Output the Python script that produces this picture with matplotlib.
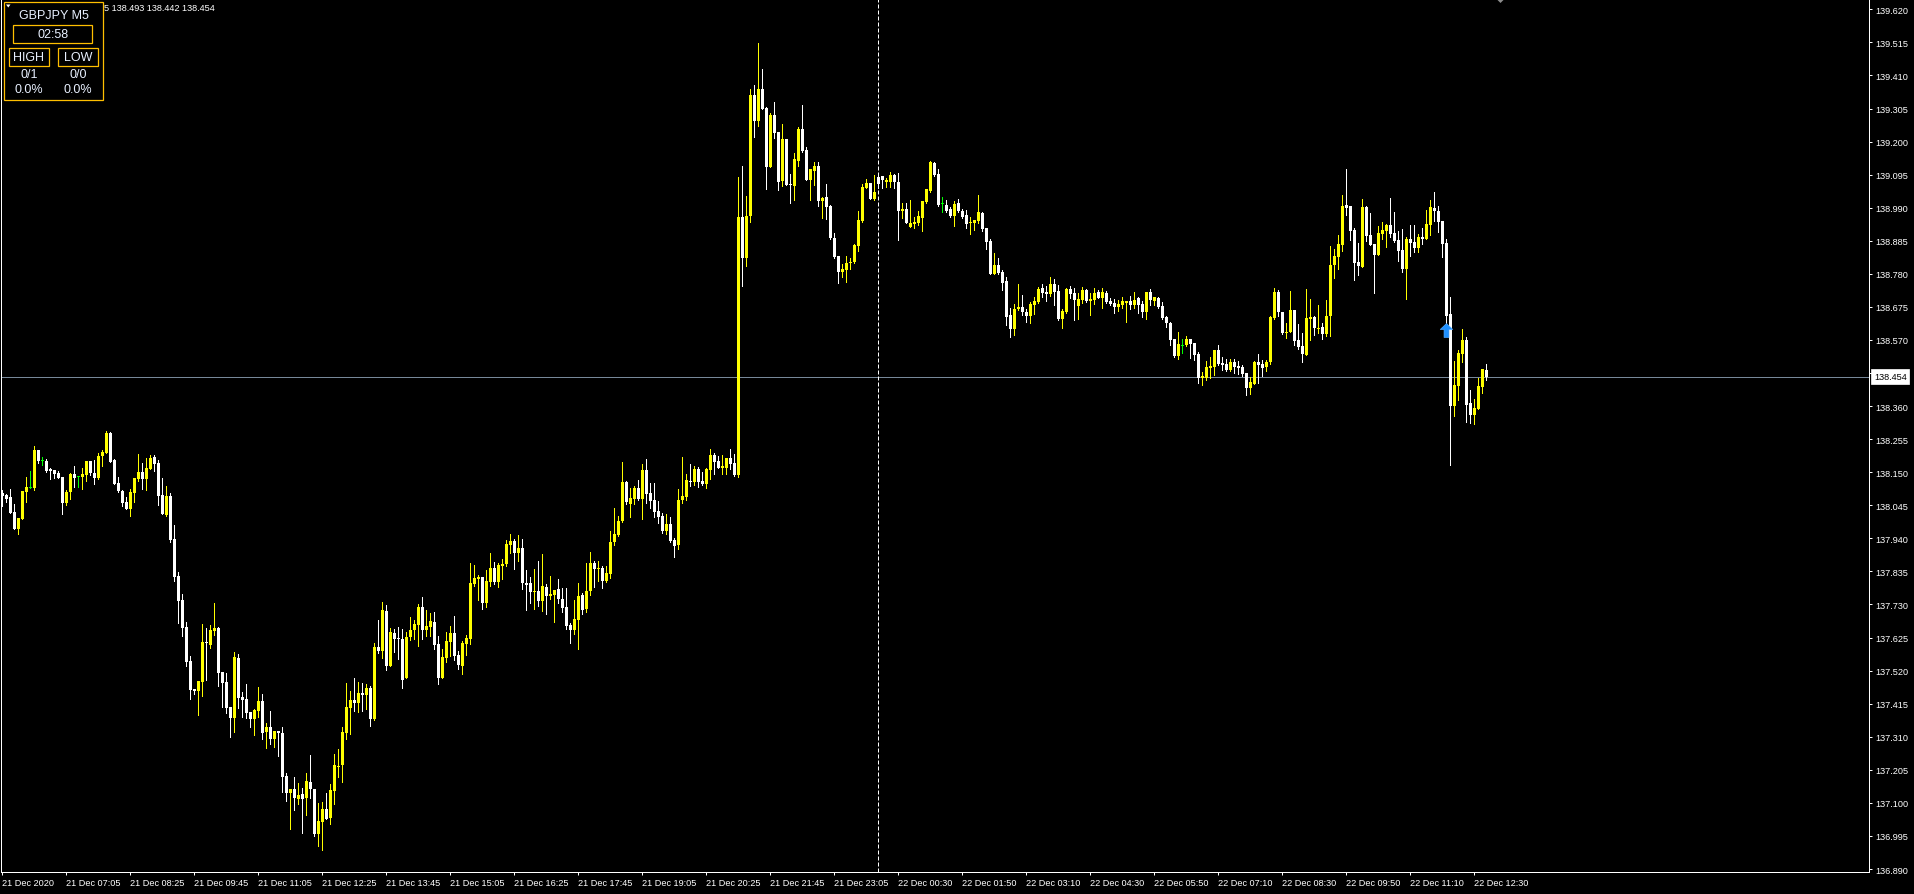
import matplotlib
matplotlib.use("Agg")
import matplotlib.pyplot as plt
from matplotlib.patches import Rectangle, Polygon
from matplotlib.path import Path
import numpy as np

plt.rcParams['font.family'] = ['Liberation Sans', 'DejaVu Sans']

# GBPJPY M5 bars, 21 Dec 2020 -> 22 Dec 2020 12:45
opens = [
    138.084, 138.078, 138.071, 138.024, 137.970, 138.001, 138.088, 138.101, 138.100, 138.221,
    138.187, 138.186, 138.160, 138.157, 138.148, 138.135, 138.052, 138.088, 138.144, 138.135,
    138.135, 138.141, 138.186, 138.148, 138.132, 138.202, 138.211, 138.275, 138.189, 138.116,
    138.090, 138.055, 138.033, 138.084, 138.128, 138.151, 138.128, 138.160, 138.198, 138.179,
    138.078, 138.015, 138.074, 137.938, 137.820, 137.744, 137.658, 137.551, 137.462, 137.455,
    137.484, 137.608, 137.601, 137.646, 137.655, 137.516, 137.484, 137.404, 137.370, 137.560,
    137.436, 137.430, 137.389, 137.366, 137.392, 137.424, 137.325, 137.341, 137.303, 137.328,
    137.322, 137.185, 137.131, 137.144, 137.112, 137.128, 137.115, 137.166, 137.144, 137.001,
    137.039, 137.081, 137.052, 137.138, 137.217, 137.220, 137.322, 137.401, 137.427, 137.417,
    137.449, 137.443, 137.465, 137.366, 137.595, 137.582, 137.709, 137.535, 137.639, 137.624,
    137.620, 137.497, 137.627, 137.649, 137.665, 137.722, 137.649, 137.659, 137.674, 137.605,
    137.497, 137.560, 137.611, 137.639, 137.570, 137.535, 137.605, 137.620, 137.795, 137.811,
    137.817, 137.735, 137.801, 137.846, 137.801, 137.852, 137.859, 137.919, 137.932, 137.894,
    137.909, 137.798, 137.798, 137.770, 137.773, 137.741, 137.786, 137.757, 137.760, 137.779,
    137.747, 137.722, 137.665, 137.649, 137.681, 137.760, 137.716, 137.773, 137.862, 137.843,
    137.846, 137.805, 137.827, 137.928, 137.951, 137.995, 138.119, 138.049, 138.065, 138.100,
    138.065, 138.157, 138.084, 138.062, 138.027, 138.011, 137.963, 137.986, 137.935, 137.919,
    138.062, 138.071, 138.122, 138.119, 138.160, 138.122, 138.113, 138.157, 138.205, 138.186,
    138.163, 138.163, 138.195, 138.179, 138.141, 138.961, 138.830, 138.964, 139.348, 139.265,
    139.367, 139.307, 139.119, 139.284, 139.230, 139.075, 139.208, 139.065, 139.059, 139.138,
    139.240, 139.173, 139.078, 139.107, 139.122, 139.011, 139.024, 138.995, 138.894, 138.837,
    138.786, 138.792, 138.814, 138.818, 138.868, 138.948, 139.053, 139.069, 139.018, 139.088,
    139.091, 139.072, 139.072, 139.094, 139.072, 138.980, 138.986, 138.929, 138.938, 138.941,
    138.957, 139.008, 139.043, 139.132, 139.097, 139.002, 138.999, 138.986, 138.964, 139.005,
    138.980, 138.967, 138.941, 138.941, 138.948, 138.973, 138.926, 138.884, 138.780, 138.808,
    138.786, 138.757, 138.649, 138.605, 138.668, 138.675, 138.659, 138.646, 138.681, 138.691,
    138.735, 138.722, 138.716, 138.748, 138.726, 138.637, 138.659, 138.732, 138.719, 138.678,
    138.697, 138.729, 138.694, 138.697, 138.722, 138.703, 138.719, 138.694, 138.687, 138.675,
    138.681, 138.687, 138.694, 138.681, 138.703, 138.684, 138.659, 138.722, 138.694, 138.703,
    138.678, 138.643, 138.624, 138.573, 138.519, 138.554, 138.554, 138.573, 138.560, 138.525,
    138.449, 138.449, 138.481, 138.484, 138.538, 138.497, 138.494, 138.475, 138.500, 138.487,
    138.484, 138.465, 138.417, 138.430, 138.500, 138.494, 138.484, 138.500, 138.640, 138.722,
    138.659, 138.595, 138.595, 138.665, 138.570, 138.551, 138.522, 138.637, 138.643, 138.608,
    138.611, 138.589, 138.646, 138.808, 138.833, 138.872, 138.999, 138.995, 138.919, 138.818,
    138.802, 138.992, 138.903, 138.875, 138.840, 138.906, 138.916, 138.935, 138.910, 138.887,
    138.856, 138.795, 138.891, 138.881, 138.862, 138.897, 138.891, 138.935, 138.989, 138.980,
    138.948, 138.878, 138.652, 138.360, 138.424, 138.525, 138.570, 138.370, 138.332, 138.351,
    138.421, 138.475,
]
highs = [
    138.094, 138.081, 138.097, 138.049, 138.005, 138.090, 138.135, 138.154, 138.233, 138.221,
    138.198, 138.192, 138.163, 138.157, 138.154, 138.135, 138.094, 138.148, 138.170, 138.139,
    138.163, 138.186, 138.186, 138.189, 138.211, 138.221, 138.280, 138.277, 138.192, 138.135,
    138.094, 138.071, 138.097, 138.132, 138.208, 138.179, 138.195, 138.205, 138.205, 138.189,
    138.132, 138.106, 138.084, 137.982, 137.833, 137.763, 137.674, 137.566, 137.462, 137.487,
    137.668, 137.655, 137.665, 137.735, 137.658, 137.516, 137.512, 137.404, 137.579, 137.573,
    137.452, 137.477, 137.389, 137.398, 137.468, 137.446, 137.354, 137.392, 137.328, 137.328,
    137.341, 137.195, 137.144, 137.182, 137.163, 137.147, 137.195, 137.252, 137.144, 137.100,
    137.103, 137.131, 137.160, 137.255, 137.271, 137.341, 137.481, 137.455, 137.497, 137.484,
    137.481, 137.477, 137.471, 137.608, 137.681, 137.738, 137.728, 137.655, 137.652, 137.659,
    137.652, 137.643, 137.690, 137.681, 137.732, 137.754, 137.712, 137.703, 137.706, 137.630,
    137.589, 137.643, 137.662, 137.693, 137.582, 137.614, 137.633, 137.862, 137.855, 137.824,
    137.817, 137.840, 137.894, 137.865, 137.862, 137.874, 137.935, 137.954, 137.938, 137.951,
    137.938, 137.840, 137.817, 137.843, 137.868, 137.890, 137.795, 137.820, 137.776, 137.811,
    137.782, 137.782, 137.671, 137.744, 137.798, 137.766, 137.862, 137.897, 137.868, 137.868,
    137.852, 137.852, 137.963, 138.036, 138.011, 138.182, 138.122, 138.100, 138.106, 138.125,
    138.176, 138.192, 138.116, 138.116, 138.059, 138.021, 138.017, 138.008, 137.941, 138.097,
    138.198, 138.144, 138.176, 138.170, 138.167, 138.151, 138.163, 138.224, 138.211, 138.202,
    138.205, 138.195, 138.224, 138.208, 139.088, 139.122, 139.027, 139.367, 139.380, 139.513,
    139.431, 139.310, 139.291, 139.326, 139.230, 139.256, 139.208, 139.097, 139.164, 139.246,
    139.316, 139.183, 139.113, 139.135, 139.135, 139.024, 139.065, 138.999, 138.910, 138.837,
    138.811, 138.837, 138.830, 138.875, 138.980, 139.065, 139.081, 139.069, 139.094, 139.100,
    139.091, 139.084, 139.103, 139.097, 139.100, 139.005, 139.005, 139.015, 138.961, 138.980,
    139.011, 139.049, 139.138, 139.135, 139.113, 139.024, 139.015, 138.992, 139.011, 139.018,
    138.986, 138.983, 138.961, 138.951, 139.030, 138.976, 138.926, 138.891, 138.846, 138.830,
    138.792, 138.770, 138.672, 138.684, 138.748, 138.713, 138.668, 138.691, 138.706, 138.738,
    138.748, 138.741, 138.770, 138.764, 138.745, 138.668, 138.735, 138.741, 138.735, 138.719,
    138.738, 138.732, 138.719, 138.735, 138.729, 138.735, 138.726, 138.703, 138.700, 138.697,
    138.706, 138.694, 138.710, 138.722, 138.706, 138.694, 138.722, 138.732, 138.706, 138.706,
    138.691, 138.646, 138.627, 138.573, 138.595, 138.573, 138.583, 138.573, 138.560, 138.532,
    138.468, 138.503, 138.516, 138.538, 138.554, 138.516, 138.510, 138.510, 138.510, 138.503,
    138.491, 138.465, 138.452, 138.503, 138.525, 138.506, 138.506, 138.646, 138.735, 138.729,
    138.659, 138.624, 138.726, 138.665, 138.621, 138.592, 138.732, 138.700, 138.646, 138.681,
    138.624, 138.697, 138.868, 138.859, 138.903, 139.030, 139.113, 138.995, 138.926, 138.878,
    139.018, 138.995, 138.973, 138.875, 138.932, 138.945, 138.938, 139.021, 138.976, 138.916,
    138.922, 138.897, 138.935, 138.935, 138.906, 138.926, 138.983, 139.014, 139.040, 138.995,
    138.948, 138.891, 138.706, 138.503, 138.538, 138.605, 138.579, 138.411, 138.383, 138.449,
    138.478, 138.493,
]
lows = [
    138.044, 138.056, 138.022, 137.970, 137.954, 138.001, 138.056, 138.100, 138.095, 138.180,
    138.174, 138.152, 138.128, 138.132, 138.132, 138.017, 138.047, 138.065, 138.103, 138.103,
    138.097, 138.122, 138.141, 138.113, 138.128, 138.170, 138.211, 138.182, 138.113, 138.087,
    138.043, 138.033, 138.011, 138.055, 138.122, 138.097, 138.094, 138.160, 138.154, 138.046,
    138.017, 138.011, 137.928, 137.805, 137.671, 137.630, 137.535, 137.430, 137.446, 137.379,
    137.439, 137.490, 137.592, 137.633, 137.471, 137.404, 137.385, 137.309, 137.325, 137.401,
    137.373, 137.370, 137.341, 137.316, 137.373, 137.303, 137.274, 137.287, 137.277, 137.249,
    137.135, 137.106, 137.017, 137.077, 137.096, 137.004, 137.062, 137.115, 136.995, 136.963,
    136.950, 137.049, 137.033, 137.096, 137.182, 137.166, 137.303, 137.319, 137.392, 137.389,
    137.392, 137.398, 137.344, 137.363, 137.576, 137.560, 137.522, 137.535, 137.579, 137.557,
    137.465, 137.497, 137.617, 137.620, 137.598, 137.620, 137.630, 137.630, 137.589, 137.478,
    137.497, 137.547, 137.566, 137.554, 137.525, 137.509, 137.570, 137.605, 137.789, 137.744,
    137.716, 137.722, 137.789, 137.795, 137.786, 137.811, 137.852, 137.894, 137.843, 137.868,
    137.779, 137.712, 137.735, 137.716, 137.725, 137.709, 137.700, 137.747, 137.674, 137.735,
    137.706, 137.652, 137.608, 137.636, 137.589, 137.700, 137.706, 137.760, 137.786, 137.805,
    137.782, 137.801, 137.814, 137.919, 137.948, 137.992, 138.049, 138.008, 138.049, 138.062,
    138.001, 138.052, 138.036, 138.008, 137.989, 137.957, 137.954, 137.928, 137.881, 137.906,
    138.052, 138.062, 138.106, 138.109, 138.103, 138.109, 138.100, 138.129, 138.144, 138.163,
    138.144, 138.144, 138.160, 138.138, 138.135, 138.741, 138.805, 138.945, 139.215, 139.250,
    139.304, 139.049, 139.119, 139.211, 139.046, 139.059, 139.062, 139.005, 139.015, 139.122,
    139.167, 139.078, 139.015, 139.062, 138.995, 138.957, 138.954, 138.891, 138.830, 138.751,
    138.770, 138.754, 138.795, 138.814, 138.853, 138.945, 139.053, 139.018, 139.015, 139.053,
    139.053, 139.056, 139.056, 139.053, 138.888, 138.957, 138.941, 138.929, 138.926, 138.935,
    138.916, 139.005, 139.040, 139.091, 138.995, 138.976, 138.976, 138.961, 138.932, 138.976,
    138.957, 138.926, 138.907, 138.919, 138.941, 138.916, 138.859, 138.780, 138.780, 138.780,
    138.729, 138.618, 138.579, 138.586, 138.665, 138.649, 138.627, 138.624, 138.652, 138.687,
    138.706, 138.694, 138.710, 138.681, 138.633, 138.608, 138.656, 138.703, 138.633, 138.637,
    138.687, 138.691, 138.649, 138.684, 138.703, 138.672, 138.687, 138.681, 138.656, 138.662,
    138.672, 138.627, 138.668, 138.672, 138.656, 138.643, 138.637, 138.681, 138.681, 138.672,
    138.637, 138.611, 138.554, 138.516, 138.510, 138.529, 138.551, 138.513, 138.506, 138.433,
    138.427, 138.443, 138.449, 138.459, 138.491, 138.475, 138.471, 138.471, 138.465, 138.462,
    138.456, 138.395, 138.398, 138.430, 138.433, 138.456, 138.471, 138.494, 138.637, 138.646,
    138.589, 138.576, 138.595, 138.554, 138.541, 138.500, 138.522, 138.570, 138.586, 138.592,
    138.573, 138.583, 138.583, 138.767, 138.795, 138.853, 138.967, 138.887, 138.760, 138.776,
    138.802, 138.884, 138.871, 138.719, 138.840, 138.891, 138.865, 138.897, 138.881, 138.821,
    138.786, 138.700, 138.837, 138.849, 138.849, 138.875, 138.891, 138.903, 138.948, 138.913,
    138.833, 138.624, 138.173, 138.329, 138.379, 138.500, 138.310, 138.306, 138.303, 138.351,
    138.402, 138.442,
]
closes = [
    138.073, 138.065, 138.022, 137.970, 138.005, 138.090, 138.103, 138.101, 138.221, 138.187,
    138.187, 138.154, 138.155, 138.144, 138.132, 138.053, 138.087, 138.144, 138.132, 138.135,
    138.144, 138.186, 138.148, 138.132, 138.202, 138.214, 138.275, 138.182, 138.113, 138.090,
    138.052, 138.033, 138.087, 138.132, 138.151, 138.128, 138.163, 138.195, 138.176, 138.076,
    138.017, 138.076, 137.935, 137.817, 137.741, 137.655, 137.547, 137.458, 137.455, 137.487,
    137.611, 137.605, 137.649, 137.655, 137.512, 137.481, 137.401, 137.370, 137.563, 137.433,
    137.427, 137.385, 137.366, 137.395, 137.424, 137.322, 137.341, 137.303, 137.328, 137.322,
    137.182, 137.131, 137.144, 137.115, 137.125, 137.112, 137.169, 137.144, 137.001, 137.042,
    137.081, 137.049, 137.141, 137.220, 137.220, 137.325, 137.404, 137.427, 137.417, 137.449,
    137.443, 137.465, 137.366, 137.595, 137.582, 137.712, 137.535, 137.643, 137.620, 137.620,
    137.490, 137.627, 137.649, 137.668, 137.722, 137.649, 137.662, 137.678, 137.601, 137.497,
    137.563, 137.614, 137.639, 137.566, 137.538, 137.608, 137.624, 137.798, 137.814, 137.817,
    137.735, 137.805, 137.846, 137.801, 137.855, 137.859, 137.922, 137.932, 137.894, 137.909,
    137.798, 137.792, 137.770, 137.773, 137.741, 137.789, 137.757, 137.763, 137.776, 137.747,
    137.719, 137.662, 137.649, 137.684, 137.757, 137.712, 137.773, 137.862, 137.843, 137.846,
    137.805, 137.830, 137.928, 137.954, 137.995, 138.119, 138.055, 138.068, 138.100, 138.065,
    138.157, 138.081, 138.059, 138.024, 138.008, 137.963, 137.986, 137.932, 137.916, 138.062,
    138.075, 138.125, 138.119, 138.160, 138.119, 138.113, 138.160, 138.205, 138.182, 138.163,
    138.170, 138.195, 138.176, 138.141, 138.961, 138.830, 138.964, 139.348, 139.265, 139.367,
    139.304, 139.119, 139.284, 139.227, 139.072, 139.208, 139.062, 139.062, 139.145, 139.240,
    139.170, 139.078, 139.113, 139.122, 139.011, 139.021, 138.992, 138.894, 138.833, 138.786,
    138.795, 138.814, 138.818, 138.872, 138.951, 139.056, 139.069, 139.018, 139.040, 139.065,
    139.078, 139.078, 139.094, 139.072, 138.980, 138.986, 138.941, 138.941, 138.945, 138.964,
    139.011, 139.049, 139.135, 139.094, 138.999, 139.002, 138.980, 138.964, 139.002, 138.980,
    138.961, 138.938, 138.945, 138.951, 138.976, 138.922, 138.881, 138.780, 138.808, 138.783,
    138.751, 138.643, 138.605, 138.668, 138.675, 138.659, 138.646, 138.684, 138.694, 138.732,
    138.719, 138.716, 138.748, 138.722, 138.637, 138.662, 138.732, 138.716, 138.697, 138.700,
    138.729, 138.694, 138.700, 138.719, 138.703, 138.722, 138.691, 138.684, 138.675, 138.684,
    138.694, 138.694, 138.681, 138.697, 138.681, 138.659, 138.722, 138.697, 138.706, 138.675,
    138.640, 138.624, 138.570, 138.519, 138.557, 138.554, 138.573, 138.557, 138.522, 138.449,
    138.456, 138.484, 138.487, 138.538, 138.494, 138.491, 138.475, 138.500, 138.484, 138.481,
    138.462, 138.417, 138.437, 138.500, 138.491, 138.481, 138.500, 138.643, 138.722, 138.659,
    138.592, 138.598, 138.665, 138.567, 138.548, 138.525, 138.640, 138.643, 138.608, 138.611,
    138.589, 138.646, 138.808, 138.837, 138.875, 138.995, 138.989, 138.916, 138.814, 138.805,
    138.992, 138.900, 138.871, 138.840, 138.910, 138.919, 138.935, 138.906, 138.884, 138.853,
    138.795, 138.891, 138.878, 138.862, 138.897, 138.891, 138.938, 138.992, 138.980, 138.945,
    138.875, 138.646, 138.360, 138.427, 138.529, 138.570, 138.363, 138.332, 138.354, 138.424,
    138.478, 138.454,
]

time_labels = [
    "21 Dec 2020", "21 Dec 07:05", "21 Dec 08:25", "21 Dec 09:45", "21 Dec 11:05",
    "21 Dec 12:25", "21 Dec 13:45", "21 Dec 15:05", "21 Dec 16:25", "21 Dec 17:45",
    "21 Dec 19:05", "21 Dec 20:25", "21 Dec 21:45", "21 Dec 23:05", "22 Dec 00:30",
    "22 Dec 01:50", "22 Dec 03:10", "22 Dec 04:30", "22 Dec 05:50", "22 Dec 07:10",
    "22 Dec 08:30", "22 Dec 09:50", "22 Dec 11:10", "22 Dec 12:30",
]
label_step = 16          # bars between time labels
day_break_bar = 219      # first bar of 22 Dec
price_ticks = [round(136.890 + 0.105 * k, 3) for k in range(27)]
bid = closes[-1]
signal_bar, signal_price = 361, 138.601

BULL, BEAR, DOJI = '#FFFF00', '#FFFFFF', '#00FF00'
GOLD, PANEL_TXT = '#FFBF00', '#E8F0FF'

W, H = 1915, 895
fig = plt.figure(figsize=(W / 100, H / 100), dpi=100, facecolor='black')
ax = fig.add_axes([1 / W, 22 / H, 1868 / W, 873 / H])
ax.set_facecolor('black')

o = np.array(opens)
hi = np.array(highs)
lo = np.array(lows)
c = np.array(closes)
x = np.arange(len(c))
cols = np.where(c > o, BULL, np.where(c < o, BEAR, DOJI))

# wicks + bodies
ax.vlines(x, lo, hi, colors=cols, linewidth=0.72, antialiased=False, zorder=3)
px = 1 / 314.9
body_h = np.maximum(np.abs(c - o), px)
body_b = np.where(np.abs(c - o) < px, o - px / 2, np.minimum(o, c))
ax.bar(x, body_h, bottom=body_b, width=0.75, color=cols, linewidth=0,
       antialiased=False, zorder=4)

# bid line and day separator
ax.axhline(bid, color='#778899', linewidth=0.72, zorder=2)
ax.axvline(day_break_bar, color='white', linewidth=0.72,
           linestyle=(0, (4, 2)), zorder=2)

# signal arrow
arrow = Path([(0, 1), (0.9, 0.15), (0.35, 0.15), (0.35, -1), (-0.35, -1),
              (-0.35, 0.15), (-0.9, 0.15), (0, 1)], closed=True)
ax.plot([signal_bar], [signal_price], marker=arrow, markersize=10,
        color='#1E90FF', markeredgecolor='#4FA8FF', markeredgewidth=0.5,
        linestyle='none', zorder=6)

ax.set_xlim(-0.25, 466.75)
ax.set_ylim(136.8805, 139.6528)

ax.yaxis.tick_right()
ax.set_yticks(price_ticks)
ax.set_yticklabels([f'{p:.3f}' for p in price_ticks])
ax.set_xticks(np.arange(len(time_labels)) * label_step)
ax.set_xticklabels(time_labels)
for lab in ax.get_xticklabels():
    lab.set_horizontalalignment('left')
ax.tick_params(axis='y', colors='white', length=2.2, width=0.72, pad=2.2,
               labelsize=6.6)
ax.tick_params(axis='x', colors='white', length=2.2, width=0.72, pad=2.2,
               labelsize=6.6)
for side in ['left', 'bottom', 'right']:
    ax.spines[side].set_color('white')
    ax.spines[side].set_linewidth(0.72)
ax.spines['top'].set_visible(False)

# current price tag on the scale
ax.annotate(f'{bid:.3f}', xy=(1.0, bid), xycoords=('axes fraction', 'data'),
            xytext=(3.5, 0), textcoords='offset points', ha='left', va='center',
            fontsize=6.6, color='black', zorder=10, annotation_clip=False,
            bbox=dict(boxstyle='square,pad=0.3', fc='white', ec='white', lw=0.5))

# overlay in pixel units for the info panel and markers
ov = fig.add_axes([0, 0, 1, 1], zorder=5)
ov.set_xlim(0, W)
ov.set_ylim(H, 0)
ov.axis('off')
ov.patch.set_alpha(0)

ov.text(215, 8, f'GBPJPY,M5  {opens[-1]:.3f} {highs[-1]:.3f} {lows[-1]:.3f} {closes[-1]:.3f}',
        ha='right', va='center', color='white', fontsize=6.6, zorder=1)
ov.add_patch(Rectangle((4, 3), 99.5, 98, fc='black', ec=GOLD, lw=0.9, zorder=2))
ov.add_patch(Polygon([(6, 5.5), (10.5, 5.5), (8.25, 8.5)], closed=True,
                     fc='white', ec='none', zorder=3))
ov.text(54, 16, 'GBPJPY M5', ha='center', va='center', color=PANEL_TXT,
        fontsize=9, zorder=3)
ov.add_patch(Rectangle((13, 26), 79.5, 17.5, fc='none', ec=GOLD, lw=0.9, zorder=3))
ov.text(53, 35, '02:58', ha='center', va='center', color=PANEL_TXT,
        fontsize=9, zorder=3)
ov.add_patch(Rectangle((9.3, 49.3), 39.4, 17.4, fc='none', ec=GOLD, lw=0.9, zorder=3))
ov.add_patch(Rectangle((58.3, 49.3), 39.4, 17.4, fc='none', ec=GOLD, lw=0.9, zorder=3))
for cx, head, ratio in [(29, 'HIGH', '0/1'), (78, 'LOW', '0/0')]:
    ov.text(cx, 58, head, ha='center', va='center', color=PANEL_TXT, fontsize=9, zorder=3)
    ov.text(cx, 75, ratio, ha='center', va='center', color=PANEL_TXT, fontsize=9, zorder=3)
    ov.text(cx, 90, '0.0%', ha='center', va='center', color=PANEL_TXT, fontsize=9, zorder=3)

# chart shift marker
ov.add_patch(Polygon([(1496.5, 0), (1504.5, 0), (1500.5, 4)], closed=True,
                     fc='#8C8C8C', ec='none', zorder=3))

fig.savefig('out.png', dpi=100, facecolor='black')
